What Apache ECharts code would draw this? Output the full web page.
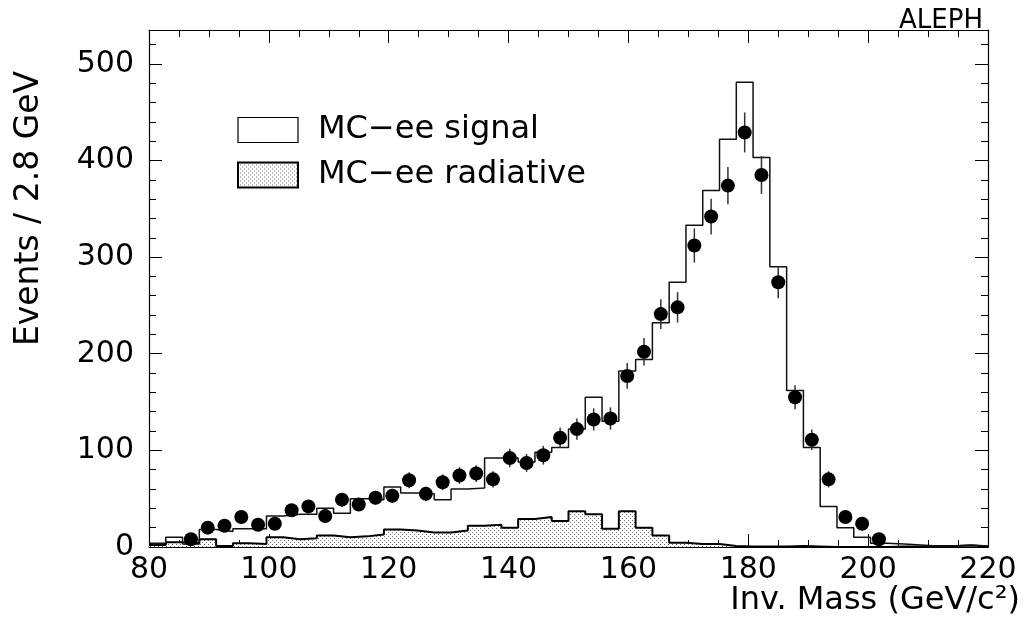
<!DOCTYPE html>
<html>
<head>
<meta charset="utf-8">
<script src="https://cdn.jsdelivr.net/npm/echarts@6/dist/echarts.min.js"></script>
<style>
html,body{margin:0;padding:0;background:#fff}
#main{width:1028px;height:624px}
</style>
</head>
<body>
<div id="main"></div>
<script>
// binning of the histograms (GeV)
var binLow = 80;
var binWidth = 2.8;
var xMin = 80, xMax = 220, xStep = 20;
var yMax = 535, yStep = 100, yMinorStep = 20;

// MC-ee signal, one value per bin (50 bins)
var signal = [4, 10, 3, 18, 16, 19, 19, 32, 34, 34,
              40, 35, 50, 49, 62, 56, 55, 49, 60, 61,
              92, 92, 88, 98, 103, 122, 155, 130, 182, 194,
              232, 274, 333, 369, 422, 481, 403, 290, 162, 103,
              42, 20, 10, 4, 3, 2, 1, 1, 2, 1];
// MC-ee radiative
var radiative = [2, 5, 4, 8, 1, 4, 3, 10, 8, 9,
                 12, 10, 11, 13, 18, 17, 15, 15, 17, 22,
                 23, 20, 29, 31, 27, 37, 34, 19, 37, 20,
                 12, 4.5, 3, 3, 1, 0.5, 0.5, 0.5, 1, 0.5,
                 0, 0, 0, 0, 0.5, 0.5, 1, 1, 1.5, 0.5];
// data points, starting at bin 2
var dataFirstBin = 2;
var dataCounts = [8, 20, 22, 31, 23, 24, 38, 42, 32, 49,
                  44, 51, 53, 69, 55, 67, 74, 76, 70, 92,
                  87, 95, 113, 122, 132, 133, 177, 202, 241, 248,
                  312, 342, 374, 429, 385, 274, 155, 111, 70, 31,
                  24, 8];
var dataErrors = [3, 4.5, 4.7, 5.6, 4.8, 4.9, 6.2, 6.5, 5.7, 7,
                  6.6, 7.1, 7.3, 8.3, 7.4, 8.2, 8.6, 8.7, 8.4, 9.6,
                  9.3, 9.7, 10.6, 11, 11.5, 11.5, 13.3, 14.2, 15.5, 15.7,
                  17.7, 18.5, 19.3, 20.7, 19.6, 16.6, 12.4, 10.5, 8.4, 5.6,
                  4.9, 2.8];

var FONT = 'DejaVu Sans';

function edge(k){ return +(binLow + binWidth * k).toFixed(2); }

// step lines: point at each lower edge, plus the last upper edge
function histLine(vals){
	var out = [];
	for(var k = 0; k < vals.length; k++){
		out.push([edge(k), vals[k]]);
	}
	out.push([edge(vals.length), vals[vals.length - 1]]);
	return out;
}

var points = [];
for(var i = 0; i < dataCounts.length; i++){
	var c = +(edge(dataFirstBin + i) + binWidth / 2).toFixed(2);
	points.push([c, dataCounts[i], dataErrors[i]]);
}

// stipple fill (staggered dots)
var cv = document.createElement('canvas');
cv.width = 4; cv.height = 4;
var cx = cv.getContext('2d');
cx.fillStyle = '#fff'; cx.fillRect(0, 0, 4, 4);
cx.fillStyle = '#707070';
cx.fillRect(0, 0, 1, 1);
cx.fillRect(2, 2, 1, 1);
var stipple = {image: cv, repeat: 'repeat'};

var chart = echarts.init(document.getElementById('main'));

var xCommon = {
	type: 'value', min: xMin, max: xMax, interval: xStep,
	splitLine: {show: false},
	axisLine: {onZero: false, lineStyle: {color: '#000', width: 1.2}},
	axisTick: {inside: true, length: 13, lineStyle: {color: '#000'}},
	minorTick: {show: true, splitNumber: 4, length: 7, lineStyle: {color: '#000'}}
};
var yCommon = {
	type: 'value', min: 0, max: yMax, interval: yStep,
	splitLine: {show: false},
	axisLine: {onZero: false, lineStyle: {color: '#000', width: 1.2}},
	axisTick: {inside: true, length: 13, lineStyle: {color: '#000'}}
};
var yMinor = {
	type: 'value', min: 0, max: yMax, interval: yMinorStep,
	splitLine: {show: false},
	axisLine: {show: false},
	axisLabel: {show: false},
	axisTick: {inside: true, length: 7, lineStyle: {color: '#000'}}
};

var option = {
	animation: false,
	backgroundColor: '#fff',
	title: {
		text: 'ALEPH', right: 40, top: 3,
		textStyle: {fontFamily: FONT, fontSize: 26, fontWeight: 'normal', color: '#000'}
	},
	grid: {left: 149, right: 40, top: 30, bottom: 77, containLabel: false, outerBoundsMode: 'none'},
	legend: {
		left: 232, top: 109, orient: 'vertical',
		itemWidth: 60, itemHeight: 25, itemGap: 13,
		textStyle: {fontFamily: FONT, fontSize: 32, color: '#000', padding: [0, 0, 0, 15]},
		data: [
			{name: 'MC\u2212ee signal', icon: 'rect',
			 itemStyle: {color: '#fff', borderColor: '#000', borderWidth: 1.2}},
			{name: 'MC\u2212ee radiative', icon: 'rect',
			 itemStyle: {color: stipple, borderColor: '#000', borderWidth: 2}}
		]
	},
	xAxis: [
		echarts.util.merge({
			position: 'bottom',
			name: 'Inv. Mass (GeV/c\u00b2)', nameLocation: 'end', nameGap: 32,
			nameTextStyle: {fontFamily: FONT, fontSize: 32, color: '#000', align: 'right', verticalAlign: 'top', padding: [38, 0, 0, 0]},
			axisLabel: {fontFamily: FONT, fontSize: 30, color: '#000', margin: 8}
		}, xCommon, true),
		echarts.util.merge({position: 'top', axisLabel: {show: false}}, xCommon, true)
	],
	yAxis: [
		echarts.util.merge({
			position: 'left',
			name: 'Events / 2.8 GeV', nameLocation: 'middle', nameGap: 103,
			nameTextStyle: {fontFamily: FONT, fontSize: 33, color: '#000', padding: [0, 0, 0, 160]},
			axisLabel: {fontFamily: FONT, fontSize: 30, color: '#000', margin: 15, showMaxLabel: false}
		}, yCommon, true),
		echarts.util.merge({position: 'right', axisLabel: {show: false}}, yCommon, true),
		echarts.util.merge({position: 'left'}, yMinor, true),
		echarts.util.merge({position: 'right'}, yMinor, true)
	],
	series: [
		{
			name: 'MC\u2212ee radiative', type: 'line', step: 'end',
			data: histLine(radiative), symbol: 'none', silent: true,
			lineStyle: {color: '#000', width: 2},
			areaStyle: {color: stipple, opacity: 1, origin: 'start'},
			z: 2
		},
		{
			name: 'MC\u2212ee signal', type: 'line', step: 'end',
			data: histLine(signal), symbol: 'none', silent: true,
			lineStyle: {color: '#111', width: 1.5},
			z: 3
		},
		{
			type: 'custom', data: points, z: 4, silent: true,
			renderItem: function(params, api){
				var x = api.value(0), y = api.value(1), e = api.value(2);
				var lo = api.coord([x, y - e]);
				var hi = api.coord([x, y + e]);
				return {
					type: 'line',
					shape: {x1: lo[0], y1: lo[1], x2: hi[0], y2: hi[1]},
					style: {stroke: '#333', lineWidth: 1.5}
				};
			}
		},
		{
			type: 'scatter', data: points, z: 5, silent: true,
			symbol: 'circle', symbolSize: 14,
			itemStyle: {color: '#000', opacity: 1}
		}
	]
};

chart.setOption(option);
</script>
</body>
</html>
